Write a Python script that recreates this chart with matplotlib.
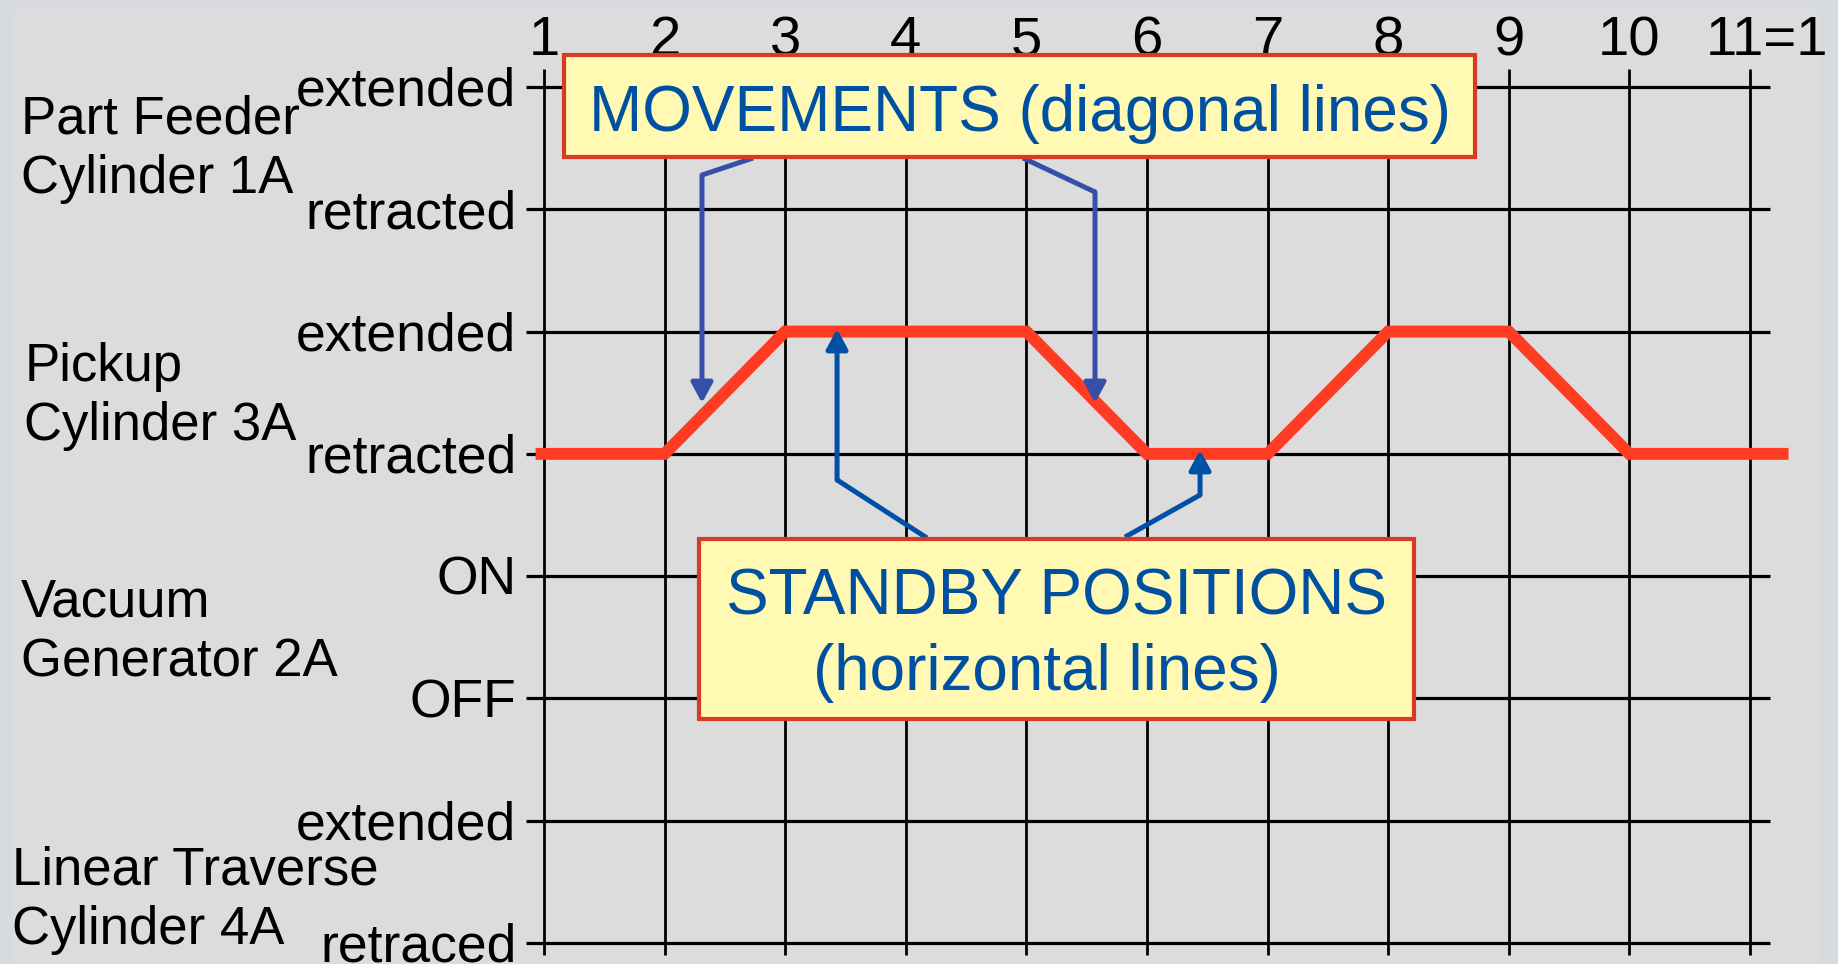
"""Diagrama espacio-fase (displacement-step) de los cilindros de la estación."""

import matplotlib

matplotlib.use("Agg")
import matplotlib.pyplot as plt
from matplotlib.patches import FancyArrowPatch, Rectangle

plt.rcParams["font.family"] = ["Liberation Sans", "DejaVu Sans"]

# Pasos del ciclo (columnas) y sus rótulos
pasos = list(range(1, 12))
etiquetas_pasos = ["1", "2", "3", "4", "5", "6", "7", "8", "9", "10", "11=1"]

# Estados (filas), de arriba hacia abajo
estados = ["extended", "retracted", "extended", "retracted", "ON", "OFF", "extended", "retraced"]
niveles = [7, 6, 5, 4, 3, 2, 1, 0]

# Componentes y la altura a la que va su nombre
componentes = [
    "Part Feeder\nCylinder 1A",
    "Pickup\nCylinder 3A",
    "Vacuum\nGenerator 2A",
    "Linear Traverse\nCylinder 4A",
]
y_componentes = [6.49, 4.47, 2.54, 0.35]
x_componentes = [-3.34, -3.31, -3.34, -3.41]

# Recorrido del cilindro de recogida 3A
x_pickup = [0.93, 2, 3, 5, 6, 7, 8, 9, 10, 11.32]
y_pickup = [4, 4, 5, 5, 4, 4, 5, 5, 4, 4]

# Flechas de las notas (puntos de la polilínea, la última es la punta)
flechas_movimiento = [
    ([2.733, 2.310, 2.310], [6.419, 6.280, 4.416]),
    ([4.972, 5.569, 5.569], [6.419, 6.141, 4.416]),
]
flechas_reposo = [
    ([4.176, 3.430, 3.430], [3.312, 3.787, 5.021]),
    ([5.818, 6.440, 6.440], [3.320, 3.664, 4.032]),
]

AZUL_TEXTO = "#0050A2"
ROJO = "#FF3B24"

fig = plt.figure(figsize=(18.38, 9.64), dpi=100, facecolor="#D7DBE0")
fig.patches.append(
    Rectangle((13 / 1838, 0), (1821 - 13) / 1838, 954 / 964,
              transform=fig.transFigure, facecolor="#DCDCDC", edgecolor="none", zorder=-1)
)
ax = fig.add_axes([0, 0, 1, 1])
ax.set_xlim(-3.511, 11.730)
ax.set_ylim(-0.171, 7.711)
ax.axis("off")

# rejilla
ax.hlines(niveles, 0.85, 11.17, color="black", linewidth=2.3, zorder=1)
ax.vlines(pasos, -0.097, 7.15, color="black", linewidth=2.0, zorder=1)

# rótulos de pasos
for x, txt in zip(pasos, etiquetas_pasos):
    if txt == "11=1":
        ax.text(x - 0.37, 7.26, txt, ha="left", va="baseline", fontsize=40.5)
    else:
        ax.text(x, 7.26, txt, ha="center", va="baseline", fontsize=40.5)

# rótulos de estados
for y, txt in zip(niveles, estados):
    ax.annotate(txt, (0.77, y), xytext=(0, -13.5), textcoords="offset points",
                ha="right", va="baseline", fontsize=38.5)

# nombres de componentes
for x, y, txt in zip(x_componentes, y_componentes, componentes):
    ax.text(x, y, txt, ha="left", va="center", fontsize=38, linespacing=1.24)

# recorrido del cilindro 3A
ax.plot(x_pickup, y_pickup, color=ROJO, linewidth=8.6, solid_capstyle="butt",
        solid_joinstyle="miter", zorder=3)


def flecha(xs, ys, color):
    ax.plot(xs[:-1], ys[:-1], color=color, linewidth=3.6, solid_capstyle="butt", zorder=4)
    ax.add_patch(FancyArrowPatch((xs[-2], ys[-2]), (xs[-1], ys[-1]),
                                 arrowstyle="-|>,head_length=12,head_width=6.5",
                                 mutation_scale=1, shrinkA=0, shrinkB=0,
                                 color=color, linewidth=3.6, zorder=4))


for xs, ys in flechas_movimiento:
    flecha(xs, ys, "#3550A8")
for xs, ys in flechas_reposo:
    flecha(xs, ys, "#0050A5")

# cuadros de texto
ax.add_patch(Rectangle((1.166, 6.428), 8.72 - 1.166, 7.262 - 6.428, facecolor="#FFF9B3",
                       edgecolor="#D93A26", linewidth=3, zorder=5))
ax.text((1.166 + 8.72) / 2, 6.640, "MOVEMENTS (diagonal lines)", ha="center", va="baseline",
        fontsize=46, color=AZUL_TEXTO, zorder=6)

ax.add_patch(Rectangle((2.285, 1.832), 8.214 - 2.285, 3.304 - 1.832, facecolor="#FFF9B3",
                       edgecolor="#D93A26", linewidth=3, zorder=5))
ax.text((2.285 + 8.214) / 2, 2.683, "STANDBY POSITIONS", ha="center", va="baseline",
        fontsize=46, color=AZUL_TEXTO, zorder=6)
ax.text((2.285 + 8.214) / 2 - 0.08, 2.069, "(horizontal lines)", ha="center", va="baseline",
        fontsize=46, color=AZUL_TEXTO, zorder=6)

fig.savefig("out.png", dpi=100, facecolor=fig.get_facecolor())
plt.close("all")
